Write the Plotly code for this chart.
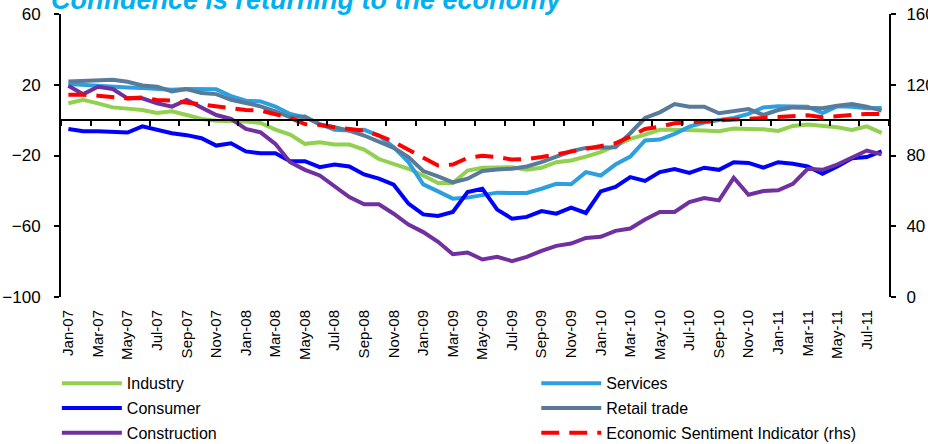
import plotly.graph_objects as go

months = []
for yr in range(7, 12):
    for m in ["Jan", "Feb", "Mar", "Apr", "May", "Jun", "Jul", "Aug", "Sep", "Oct", "Nov", "Dec"]:
        months.append(f"{m}-{yr:02d}")
months = months[:56]  # Jan-07 .. Aug-11

tick_labels = months[0:55:2]

industry = [9.5, 11.5, 9.5, 7.2, 6.5, 5.7, 4.0, 5.0, 2.9, 0.7,
            -0.3, -0.3, -0.8, -1.6, -5.4, -8.2, -13.4, -12.5, -13.8, -13.8,
            -16.6, -22.0, -24.7, -27.5, -31.3, -35.6, -35.6, -28.5,
            -26.9, -26.6, -26.6, -28.1, -26.9, -23.8, -22.8, -20.6, -18.1, -14.4,
            -10.6, -8.2, -5.5, -5.4, -5.5, -5.9, -6.3, -4.8, -5.0, -5.2,
            -6.1, -3.3, -2.5, -3.1, -4.0, -5.5, -3.5, -7.2]

services = [20.4, 19.8, 19.4, 18.9, 18.5, 18.1, 17.7, 17.2, 17.6, 17.4,
            17.4, 13.6, 11.0, 10.6, 7.6, 3.5, 1.6, -2.2, -5.4, -5.9,
            -5.5, -8.7, -15.3, -23.8, -36.3, -40.3, -44.4, -43.8,
            -42.5, -41.0, -41.2, -41.2, -38.8, -36.0, -36.3, -29.4, -31.3, -25.1,
            -20.6, -11.5, -11.0, -7.8, -3.7, -1.4, 0.1, 1.2, 3.5, 7.2,
            7.8, 7.8, 7.6, 4.0, 7.8, 7.6, 6.7, 6.9]

consumer = [-5.0, -6.3, -6.3, -6.9, -7.0, -3.5, -5.4, -7.4, -8.5, -10.2,
            -14.4, -13.1, -17.7, -18.7, -18.7, -23.2, -23.2, -26.6, -25.1, -26.2,
            -30.7, -33.1, -36.5, -47.2, -53.3, -54.2, -51.9, -40.7,
            -38.8, -50.6, -55.7, -54.7, -51.4, -52.9, -49.5, -52.5, -40.3, -37.8,
            -32.2, -34.4, -29.4, -27.7, -29.8, -26.9, -28.1, -23.8, -24.2, -26.9,
            -23.8, -24.7, -26.2, -30.3, -26.2, -21.5, -20.9, -17.6]

retail = [21.9, 22.3, 22.3, 22.8, 21.7, 19.6, 18.9, 16.2, 17.6, 15.3,
          14.7, 11.5, 9.7, 7.8, 5.0, 1.6, 2.0, -2.5, -4.0, -5.9,
          -8.7, -12.1, -15.7, -20.9, -28.8, -31.8, -35.2, -33.1,
          -28.8, -27.9, -27.5, -26.2, -23.8, -20.6, -17.6, -15.7, -15.7, -15.3,
          -7.4, 1.2, 4.4, 9.1, 7.6, 7.6, 3.9, 5.0, 6.3, 2.9,
          5.7, 7.2, 7.2, 6.7, 8.2, 9.1, 7.6, 5.4]

construction = [19.4, 14.7, 18.9, 17.6, 12.3, 12.3, 9.5, 7.6, 11.4, 6.9,
                2.9, 0.7, -5.0, -6.9, -13.4, -23.8, -28.1, -31.3, -37.5, -43.5,
                -47.6, -47.6, -52.9, -59.1, -63.3, -68.8, -75.8, -74.8,
                -78.8, -77.3, -79.7, -77.3, -73.9, -71.1, -69.8, -66.6, -66.0, -62.6,
                -61.3, -56.2, -51.9, -51.9, -46.3, -44.0, -45.4, -32.6, -42.2, -40.1,
                -39.7, -36.0, -27.5, -28.1, -25.1, -20.9, -17.2, -19.4]

esi_rhs = [114.4, 114.4, 113.8, 112.8, 112.3, 112.8, 111.4, 111.0, 110.0, 109.1,
           108.2, 107.2, 105.7, 105.4, 103.5, 101.2, 97.8, 97.3, 96.0, 95.0,
           94.1, 91.3, 87.7, 83.2, 79.1, 74.4, 74.9, 78.7,
           79.8, 79.1, 77.7, 77.9, 79.1, 80.6, 82.3, 83.8, 85.1, 86.9,
           90.7, 95.0, 96.3, 98.2, 98.8, 99.3, 99.7, 100.7, 101.2, 101.6,
           102.0, 102.3, 102.7, 101.6, 102.3, 103.1, 103.5, 103.5]

left_ticks = [-100, -60, -20, 20, 60]
right_ticks = [0, 40, 80, 120, 160]

x = list(range(len(months)))
FONT = "Arial, Liberation Sans, sans-serif"

series = [
    ("Industry", industry, "#92D050", "legend", "y", "solid"),
    ("Services", services, "#2C9FE0", "legend2", "y", "solid"),
    ("Consumer", consumer, "#0000FF", "legend", "y", "solid"),
    ("Retail trade", retail, "#587B99", "legend2", "y", "solid"),
    ("Construction", construction, "#7030A0", "legend", "y", "solid"),
    ("Economic Sentiment Indicator (rhs)", esi_rhs, "#FF0000", "legend2", "y2", "18px,10px"),
]

fig = go.Figure()
for name, vals, color, leg, yax, dash in series:
    fig.add_trace(go.Scatter(
        x=x, y=vals, name=name, mode="lines", yaxis=yax, legend=leg,
        legendgroup=name,
        line=dict(color=color, width=4, dash=dash),
        hovertemplate="%{text}: %{y}<extra>" + name + "</extra>",
        text=months,
    ))

# dummy trace to make the zero-line axis exist
fig.add_trace(go.Scatter(x=[-0.5], y=[0], xaxis="x2", yaxis="y", mode="markers",
                         marker=dict(opacity=0), showlegend=False, hoverinfo="skip"))

n = len(months)
boundary_ticks = [i - 0.5 for i in range(0, n + 1, 2)]

fig.update_layout(
    width=928, height=444,
    margin=dict(l=61, r=39, t=14, b=147, autoexpand=False),
    paper_bgcolor="white", plot_bgcolor="white",
    font=dict(family=FONT, color="black"),
    showlegend=True,
    xaxis=dict(
        range=[-0.5, n - 0.5], tickmode="array",
        tickvals=list(range(0, n - 1, 2)), ticktext=tick_labels,
        tickangle=-90, showline=False, showgrid=False, zeroline=False,
        ticks="outside", ticklen=6, tickcolor="rgba(0,0,0,0)",
        tickfont=dict(size=15, family=FONT, color="black"),
    ),
    xaxis2=dict(
        overlaying="x", anchor="free", position=0.625,
        range=[-0.5, n - 0.5], tickmode="array", tickvals=boundary_ticks,
        showticklabels=False, ticks="outside", ticklen=5, tickwidth=2,
        tickcolor="black", showline=True, linewidth=2, linecolor="black",
        showgrid=False, zeroline=False,
    ),
    yaxis=dict(
        range=[-100, 60], tickmode="array", tickvals=left_ticks,
        showline=True, linewidth=2, linecolor="black", mirror=False,
        ticks="outside", ticklen=5, tickwidth=2, tickcolor="black",
        showgrid=False, zeroline=False, ticklabelstandoff=10,
        tickfont=dict(size=17, family=FONT, color="black"),
    ),
    yaxis2=dict(
        range=[0, 160], tickmode="array", tickvals=right_ticks,
        overlaying="y", side="right", anchor="x",
        showline=True, linewidth=2, linecolor="black",
        ticks="outside", ticklen=5, tickwidth=2, tickcolor="black",
        showgrid=False, zeroline=False, ticklabelstandoff=7,
        tickfont=dict(size=17, family=FONT, color="black"),
    ),
    legend=dict(
        x=-0.005, y=-0.245, xref="paper", yref="paper", xanchor="left", yanchor="top",
        orientation="v", itemwidth=60, traceorder="grouped", tracegroupgap=1,
        font=dict(size=16, family=FONT, color="black"), bgcolor="rgba(0,0,0,0)",
    ),
    legend2=dict(
        x=0.574, y=-0.245, xref="paper", yref="paper", xanchor="left", yanchor="top",
        orientation="v", itemwidth=60, traceorder="grouped", tracegroupgap=1,
        font=dict(size=16, family=FONT, color="black"), bgcolor="rgba(0,0,0,0)",
    ),
    annotations=[dict(
        text="Confidence is returning to the economy", xref="paper", yref="paper",
        x=-0.014, y=0.99, xanchor="left", yanchor="bottom", showarrow=False,
        font=dict(size=27, family=FONT, color="#00B0F0", weight="bold", style="italic"),
    )],
)

fig.write_html("out.html", config={"displayModeBar": False})

# remove the browser's default page margin so the figure sits at the window's corner
with open("out.html", "r", encoding="utf-8") as f:
    html = f.read()
html = html.replace("<body>", '<body style="margin:0;padding:0;">', 1)
with open("out.html", "w", encoding="utf-8") as f:
    f.write(html)
